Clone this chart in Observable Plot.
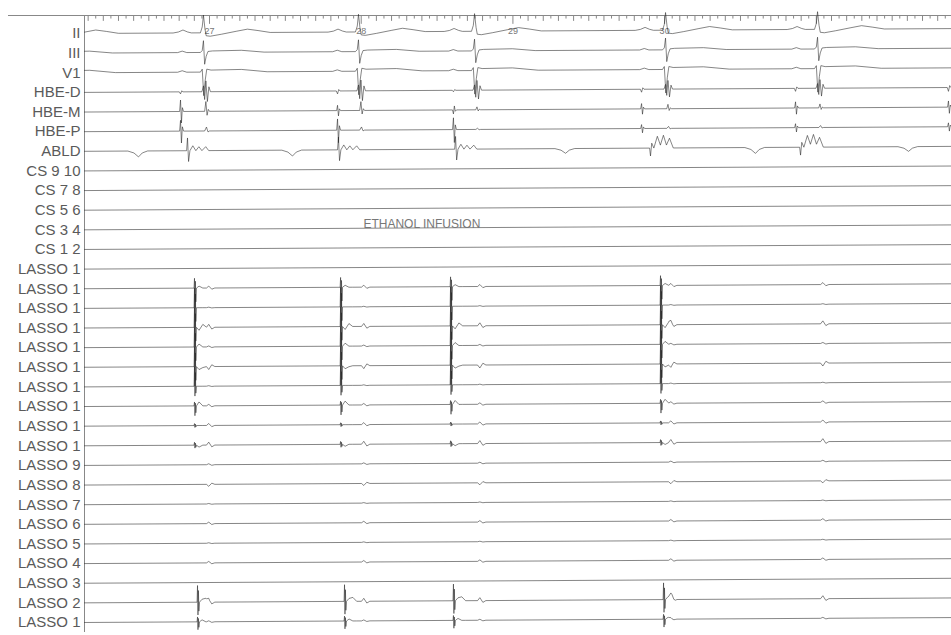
<!DOCTYPE html>
<html><head><meta charset="utf-8">
<script src="https://cdn.jsdelivr.net/npm/d3@7"></script>
<script src="https://cdn.jsdelivr.net/npm/@observablehq/plot@0.6"></script>
<style>html,body{margin:0;padding:0;background:#fff;}</style>
</head><body><div id="chart"></div>
<script>
// ---------- channel labels ----------
const channels = ["II","III","V1","HBE-D","HBE-M","HBE-P","ABLD",
  "CS 9 10","CS 7 8","CS 5 6","CS 3 4","CS 1 2",
  "LASSO 1","LASSO 1","LASSO 1","LASSO 1","LASSO 1","LASSO 1","LASSO 1","LASSO 1","LASSO 1","LASSO 1",
  "LASSO 9","LASSO 8","LASSO 7","LASSO 6","LASSO 5","LASSO 4","LASSO 3","LASSO 2","LASSO 1"];
const secondLabels = [27, 28, 29, 30];
const annotation = {t: 28.40, row: 9.73, text: "ETHANOL INFUSION"};

// ---------- event times (s) ----------
const qrsTimes       = [25.960, 26.960, 27.982, 28.747, 30.006, 31.008];
const atrialTimes    = [26.809, 27.844, 28.608, 29.848, 30.863, 31.871];
const ablTimes       = [26.855, 27.850, 28.622, 29.907, 30.896];
const ablShapes      = ["ablA", "ablA", "ablA", "ablB", "ablB"];
const ablSlowTimes   = [26.532, 27.547, 29.347, 30.599, 31.608];
const ablSlowScale   = [1, 1, 0.8, 1, 0.8];
const lassoSpikeTimes = [26.901, 27.864, 28.589, 29.973];
const lowSpikeTimes   = [26.921, 27.890, 28.608, 29.993];

// per-event scales
const hbeDVScale = [0, 1, 1, 0.9, 0.8, 0.8];
const hbeDAScale = [0.7, 1, 0.5, 1, 1, 1.3];
const hbeMAScale = [1.3, 0.6, -0.45, 0.6, 0.7, 0.7];
const hbeMVScale = [0, 1, 0.9, 0.3, 0.45, 0.4];
const hbePAScale = [1.1, 1.15, 1.2, 0.4, 0.4, 0.4];
const hbePVScale = [0, 1, 0.8, 0.3, 0.5, 0.5];

// ---------- waveform shapes: [ms from event, amplitude] ----------
const shapes = {
  II:   [[-200,0],[-165,1],[-135,3],[-105,1],[-80,0],[-20,0],[-8,6],[0,18],[10,4],[18,-3],[45,-3.5],[120,-1.5],[220,1.5],[290,3.5],[360,2],[440,0]],
  III:  [[-170,0],[-140,1.5],[-110,0],[-20,0],[-8,2],[0,12],[8,-12],[18,-4],[30,1],[60,1.5],[250,2],[400,0]],
  V1:   [[-170,0],[-140,1.5],[-110,0],[-20,0],[-8,3],[2,-24],[12,-8],[22,3],[50,2],[250,2.5],[420,0]],
  hbeDV:[[-10,0],[0,6],[8,-8],[16,11],[26,-10],[36,5],[46,0]],
  hbeDA:[[-8,0],[0,-3],[8,1.5],[16,0]],
  hbeMA:[[-6,0],[0,9],[6,-9],[12,3],[20,0]],
  hbeMV:[[8,0],[16,10],[24,-4],[32,2],[40,0]],
  hbePA:[[-6,0],[0,10],[6,-11],[12,4],[20,0]],
  hbePV:[[8,0],[20,4],[30,-1],[40,0]],
  ablA: [[-6,0],[0,13],[7,-11],[16,0],[35,5],[55,0],[75,4],[95,0],[120,4],[140,0]],
  ablB: [[-6,0],[0,-8],[8,5],[22,0],[45,12],[65,3],[85,13],[105,3],[125,10],[150,0]],
  ablT: [[-70,0],[-30,-2],[0,-6],[25,-2],[60,0]],
  ff:   [[20,0],[35,1],[55,-0.6],[75,0]]
};

// LASSO rows 12..30: spike up / down, post-spike hooks, far-field amplitude
const lassoUp    = [0,10,20,20,20,20,20,4,2,3, 0,0,0,0,0,0,0,17,5];
const lassoDown  = [0,20,20,20,20,20,10,10,2,3, 0,0,0,0,0,0,0,13,8];
const lassoHook1 = [0,2,0,-3,3,-3,0,4,0,-2, 0,0,0,0,0,0,0,3,2];
const lassoHook2 = [0,0,0,3,0,-1,0,0,0,0, 0,0,0,0,0,0,0,4,0];
const lassoFF    = [0,2,0.5,3,1,-3,0.5,1.5,2,3, 1,-2,0.5,1.5,0.5,1.5,0,3,1];

// ---------- geometry of the page ----------
const t0 = 26.176, t1 = 31.891, rulerStart = 25.675;
const d0 = -0.917, d1 = 30.51;
const drift = 0.25;      // scanned page is slightly rotated
const ampUnit = 0.05;    // one amplitude unit in row heights

function interp(tpl, ms) {
  if (ms <= tpl[0][0] || ms >= tpl[tpl.length - 1][0]) return 0;
  for (let i = 1; i < tpl.length; i++) {
    if (ms <= tpl[i][0]) {
      const [a0, v0] = tpl[i - 1], [a1, v1] = tpl[i];
      return v0 + (v1 - v0) * (ms - a0) / (a1 - a0);
    }
  }
  return 0;
}

function events(times, tpl, scales) {
  return times.map((t, i) => ({t, tpl: typeof tpl === "function" ? tpl(i) : tpl, k: scales ? scales[i] : 1}));
}

const channelEvents = channels.map(() => []);
channelEvents[0] = events(qrsTimes, shapes.II);
channelEvents[1] = events(qrsTimes, shapes.III);
channelEvents[2] = events(qrsTimes, shapes.V1);
channelEvents[3] = [...events(qrsTimes, shapes.hbeDV, hbeDVScale), ...events(atrialTimes, shapes.hbeDA, hbeDAScale)];
channelEvents[4] = [...events(atrialTimes, shapes.hbeMA, hbeMAScale), ...events(qrsTimes, shapes.hbeMV, hbeMVScale)];
channelEvents[5] = [...events(atrialTimes, shapes.hbePA, hbePAScale), ...events(qrsTimes, shapes.hbePV, hbePVScale)];
channelEvents[6] = [...events(ablTimes, i => shapes[ablShapes[i]]), ...events(ablSlowTimes, shapes.ablT, ablSlowScale)];
for (let j = 0; j < lassoUp.length; j++) {
  const row = 12 + j;
  const U = lassoUp[j], D = lassoDown[j];
  const spike = [[-3,0],[0,U],[3,-D],[6,U*0.7],[9,-D*0.7],[13,0],[30,lassoHook1[j]],[55,lassoHook2[j]],[80,0]];
  const times = row >= 29 ? lowSpikeTimes : lassoSpikeTimes;
  const ev = [];
  if (U || D) ev.push(...events(times, spike));
  if (lassoFF[j]) ev.push(...events(qrsTimes, shapes.ff, qrsTimes.map(() => lassoFF[j])));
  channelEvents[row] = ev;
}

const points = [];
channelEvents.forEach((evs, row) => {
  const ts = new Set([t0, t1]);
  for (const e of evs) for (const [ms] of e.tpl) {
    const t = +(e.t + ms / 1000).toFixed(5);
    if (t > t0 && t < t1) ts.add(t);
  }
  [...ts].sort((a, b) => a - b).forEach(t => {
    let a = 0;
    for (const e of evs) a += e.k * interp(e.tpl, (t - e.t) * 1000);
    points.push({ch: row, t, v: row - drift * (t - t0) / (t1 - t0) - a * ampUnit});
  });
});

const rulerTicks = d3.range(Math.ceil(t0 * 20), Math.floor(t1 * 20) + 1).map(i => i / 20);
const tickLen = d => {
  const i = Math.round(d * 20);
  return i % 20 === 0 ? 0.45 : i % 2 === 0 ? 0.3 : 0.18;
};

const chart = Plot.plot({
  width: 951, height: 635,
  marginLeft: 84, marginRight: 0, marginTop: 15, marginBottom: 3,
  x: {domain: [t0, t1], axis: null},
  y: {domain: [d0, d1], reverse: true},
  style: {fontFamily: "'Liberation Sans', Arial, sans-serif", background: "#fff", color: "#555"},
  marks: [
    Plot.ruleX([t0], {stroke: "#888", strokeWidth: 1}),
    Plot.ruleY([d0], {x1: rulerStart, x2: t1, stroke: "#888", strokeWidth: 1}),
    Plot.ruleX(rulerTicks, {x: d => d, y1: d0, y2: d => d0 + tickLen(d), stroke: "#888"}),
    Plot.text(secondLabels, {x: d => d, y: d0, dy: 16, text: d => String(d), fontSize: 9, fill: "#777"}),
    Plot.line(points, {x: "t", y: "v", z: "ch", stroke: "#222", strokeOpacity: 0.55, strokeWidth: 1}),
    Plot.text([annotation], {x: "t", y: "row", text: "text", fontSize: 12, fill: "#777"}),
    Plot.axisY(d3.range(channels.length), {tickFormat: i => channels[i], tickSize: 0, tickPadding: 4, fontSize: 15, fill: "#5a5a5a", label: null})
  ]
});
document.getElementById("chart").append(chart);
</script></body></html>
